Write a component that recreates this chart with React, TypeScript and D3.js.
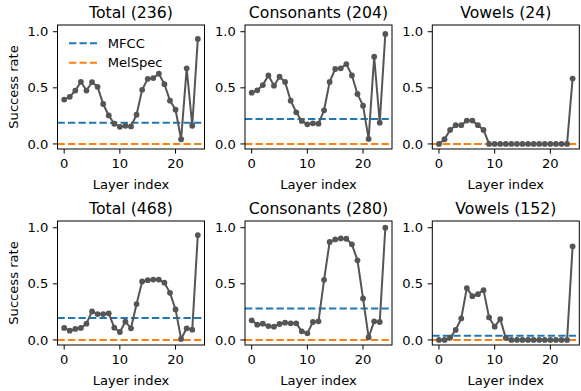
import React from "react";
import * as d3 from "d3";

// Layer-wise success rate per subset, layers 0..24
const layers: number[] = d3.range(0, 25);

const titles: string[] = [
  "Total (236)",
  "Consonants (204)",
  "Vowels (24)",
  "Total (468)",
  "Consonants (280)",
  "Vowels (152)",
];

const total236: number[] = [
  0.395, 0.42, 0.476, 0.554, 0.476, 0.551, 0.509, 0.356, 0.254, 0.18, 0.153, 0.162, 0.156,
  0.26, 0.482, 0.58, 0.587, 0.626, 0.533, 0.386, 0.305, 0.042, 0.674, 0.162, 0.936,
];
const consonants204: number[] = [
  0.457, 0.478, 0.525, 0.611, 0.519, 0.599, 0.552, 0.386, 0.282, 0.205, 0.175, 0.184, 0.181,
  0.3, 0.552, 0.668, 0.674, 0.712, 0.611, 0.445, 0.341, 0.045, 0.777, 0.19, 0.98,
];
const vowels24: number[] = [
  0, 0.042, 0.125, 0.167, 0.167, 0.208, 0.208, 0.167, 0.125, 0, 0, 0, 0, 0, 0, 0, 0, 0, 0, 0, 0,
  0, 0, 0, 0.583,
];
const total468: number[] = [
  0.107, 0.083, 0.098, 0.107, 0.145, 0.254, 0.231, 0.231, 0.237, 0.109, 0.071, 0.163, 0.104,
  0.32, 0.521, 0.533, 0.538, 0.538, 0.51, 0.42, 0.272, 0.009, 0.104, 0.092, 0.935,
];
const consonants280: number[] = [
  0.175, 0.136, 0.145, 0.124, 0.118, 0.142, 0.154, 0.148, 0.148, 0.077, 0.059, 0.16, 0.166,
  0.536, 0.873, 0.896, 0.905, 0.902, 0.852, 0.71, 0.37, 0.024, 0.166, 0.16, 1.0,
];
const vowels152: number[] = [
  0, 0, 0.02, 0.089, 0.192, 0.462, 0.39, 0.408, 0.444, 0.201, 0.118, 0.186, 0.018, 0, 0, 0, 0,
  0, 0, 0, 0, 0, 0, 0, 0.834,
];

const seriesList: number[][] = [total236, consonants204, vowels24, total468, consonants280, vowels152];

// Baselines drawn as horizontal dashed lines
const mfccBaseline: number[] = [0.19, 0.223, 0, 0.195, 0.281, 0.038];
const melSpecBaseline: number[] = [0, 0, 0, 0, 0, 0];

const xTicks: number[] = [0, 10, 20];
const yTicks: number[] = [0, 0.5, 1.0];
const legendLabels: string[] = ["MFCC", "MelSpec"];

const W = 581;
const H = 391;
const colLefts = [57.5, 245, 432.3];
const rowTops = [25, 221];
const panelW = 147;
const panelH = 124;

const BLUE = "#1f77b4";
const ORANGE = "#ff7f0e";
const GREY = "#555555";
const FONT = "DejaVu Sans, sans-serif";
const TICK_FS = 13.1;
const TITLE_FS = 15.7;

function Panel({ idx }: { idx: number }) {
  const row = Math.floor(idx / 3);
  const col = idx % 3;
  const left = colLefts[col];
  const top = rowTops[row];
  const x = d3.scaleLinear().domain([-1.2, 25.2]).range([left, left + panelW]);
  const y = d3.scaleLinear().domain([-0.045, 1.06]).range([top + panelH, top]);
  const data = seriesList[idx];
  const line = d3
    .line<number>()
    .x((_, i) => x(layers[i]))
    .y((d) => y(d));
  const dash = "7.3 3.2";
  const tickLen = 4.6;
  return (
    <g>
      <line x1={left} x2={left + panelW} y1={y(mfccBaseline[idx])} y2={y(mfccBaseline[idx])}
        stroke={BLUE} strokeWidth={2} strokeDasharray={dash} />
      <line x1={left} x2={left + panelW} y1={y(melSpecBaseline[idx])} y2={y(melSpecBaseline[idx])}
        stroke={ORANGE} strokeWidth={2} strokeDasharray={dash} />
      <path d={line(data) || ""} fill="none" stroke={GREY} strokeWidth={2} />
      {data.map((d, i) => (
        <circle key={i} cx={x(layers[i])} cy={y(d)} r={2.9} fill={GREY} />
      ))}
      <rect x={left} y={top} width={panelW} height={panelH} fill="none" stroke="#000" strokeWidth={1} />
      {xTicks.map((t) => (
        <g key={"x" + t}>
          <line x1={x(t)} x2={x(t)} y1={top + panelH} y2={top + panelH + tickLen} stroke="#000" strokeWidth={1} />
          <text x={x(t)} y={top + panelH + tickLen + 4.6 + 10} textAnchor="middle" fontSize={TICK_FS} fontFamily={FONT}>
            {t}
          </text>
        </g>
      ))}
      {yTicks.map((t) => (
        <g key={"y" + t}>
          <line x1={left - tickLen} x2={left} y1={y(t)} y2={y(t)} stroke="#000" strokeWidth={1} />
          <text x={left - tickLen - 4.6} y={y(t)} dy="0.35em" textAnchor="end" fontSize={TICK_FS} fontFamily={FONT}>
            {t.toFixed(1)}
          </text>
        </g>
      ))}
      <text x={left + panelW / 2} y={top + panelH + 40} textAnchor="middle" fontSize={TICK_FS} fontFamily={FONT}>
        Layer index
      </text>
      <text x={left + panelW / 2} y={top - 7.5} textAnchor="middle" fontSize={TITLE_FS} fontFamily={FONT}>
        {titles[idx]}
      </text>
      {col === 0 && (
        <text transform={`translate(${18},${top + panelH / 2}) rotate(-90)`} textAnchor="middle"
          fontSize={TICK_FS} fontFamily={FONT}>
          Success rate
        </text>
      )}
    </g>
  );
}

function Legend() {
  const colors = [BLUE, ORANGE];
  const rowsY = [43.3, 62.7];
  return (
    <g>
      {legendLabels.map((lab, i) => (
        <g key={lab}>
          <line x1={69} x2={97} y1={rowsY[i]} y2={rowsY[i]} stroke={colors[i]} strokeWidth={2} strokeDasharray="7.3 3.2" />
          <text x={107.7} y={rowsY[i]} dy="0.35em" fontSize={TICK_FS} fontFamily={FONT}>
            {lab}
          </text>
        </g>
      ))}
    </g>
  );
}

export default function App() {
  return (
    <svg width={W} height={H} style={{ position: "absolute", left: 0, top: 0, background: "#fff" }}>
      <rect width={W} height={H} fill="#fff" />
      {seriesList.map((_, i) => (
        <Panel key={i} idx={i} />
      ))}
      <Legend />
    </svg>
  );
}
